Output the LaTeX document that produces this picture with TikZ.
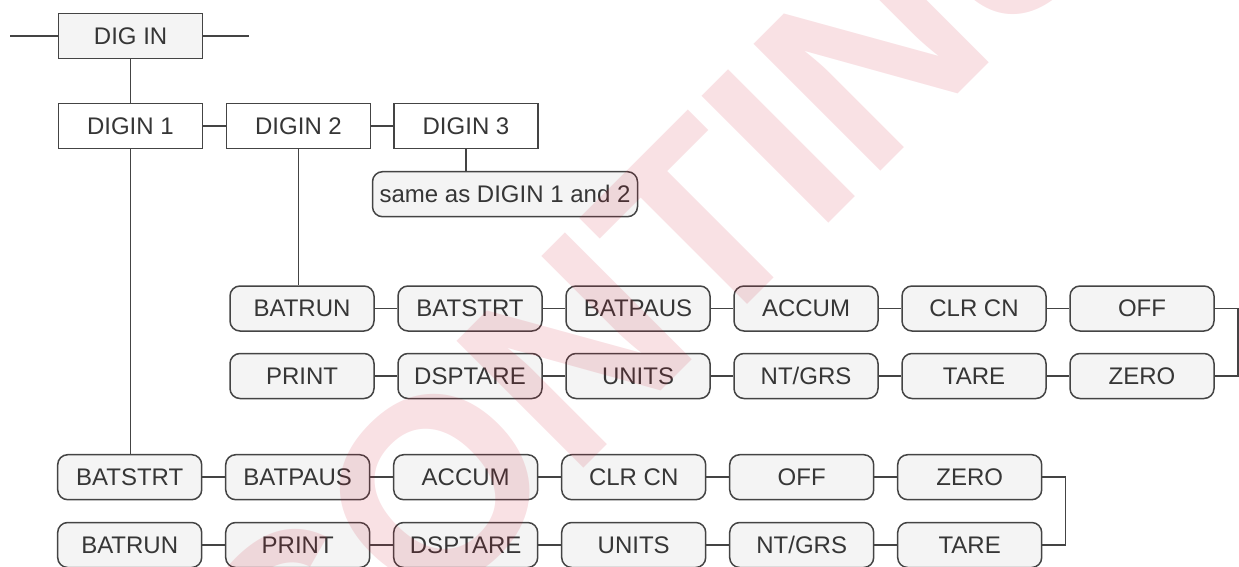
\documentclass[tikz,border=0pt]{standalone}
\usepackage{fontspec}
\setmainfont{Liberation Sans}
\definecolor{ln}{HTML}{444444}
\definecolor{tx}{HTML}{363636}
\definecolor{bx}{HTML}{F4F4F4}
\definecolor{wm}{RGB}{205,20,45}
\begin{document}
\begin{tikzpicture}[x=1pt,y=-1pt,
  base/.style={draw=ln, line width=1.5pt, text=tx, font=\fontsize{24}{28}\selectfont, inner sep=0pt, minimum width=144pt, minimum height=45pt, anchor=center},
  sq/.style={base, fill=white},
  sqg/.style={base, fill=bx},
  rbox/.style={base, fill=bx, rounded corners=10pt},
  conn/.style={draw=ln, line width=1.5pt}]
\useasboundingbox (0,0) rectangle (1239,567);
% top level
\node[sqg] (digin) at (130.6,35.8) {DIG IN};
\coordinate (l0) at (10,35.8);
\coordinate (r0) at (249,35.8);
\draw[conn] (l0) -- (digin);
\draw[conn] (digin) -- (r0);
\node[sq] (d1) at (130.4,125.8) {DIGIN 1};
\node[sq] (d2) at (298.5,125.8) {DIGIN 2};
\node[sq] (d3) at (466,125.8) {DIGIN 3};
\node[rbox, minimum width=265pt] (same) at (505,194.2) {same as DIGIN 1 and 2};
\draw[conn] (digin.south) -- (d1.north -| digin.south);
\draw[conn] (d1) -- (d2);
\draw[conn] (d2) -- (d3);
\draw[conn] (d3.south) -- (d3.south |- same.north);
% DIGIN 2 section
\foreach \t [count=\i] in {BATRUN,BATSTRT,BATPAUS,ACCUM,CLR CN,OFF}
  \node[rbox] (a\i) at ({302+168*(\i-1)},308.5) {\t};
\foreach \t [count=\i] in {PRINT,DSPTARE,UNITS,NT/GRS,TARE,ZERO}
  \node[rbox] (b\i) at ({302+168*(\i-1)},376) {\t};
\foreach \i [evaluate=\i as \j using int(\i+1)] in {1,...,5} {
  \draw[conn] (a\i) -- (a\j);
  \draw[conn] (b\i) -- (b\j);
}
\coordinate (bxA) at (1238,0);
\draw[conn] (a6.east) -- (a6.east -| bxA) |- (b6.east);
\draw[conn] (d2.south) -- (d2.south |- a1.north);
% DIGIN 1 section
\foreach \t [count=\i] in {BATSTRT,BATPAUS,ACCUM,CLR CN,OFF,ZERO}
  \node[rbox] (c\i) at ({129.7+168*(\i-1)},477.2) {\t};
\foreach \t [count=\i] in {BATRUN,PRINT,DSPTARE,UNITS,NT/GRS,TARE}
  \node[rbox] (e\i) at ({129.7+168*(\i-1)},545) {\t};
\foreach \i [evaluate=\i as \j using int(\i+1)] in {1,...,5} {
  \draw[conn] (c\i) -- (c\j);
  \draw[conn] (e\i) -- (e\j);
}
\coordinate (bxC) at (1065.7,0);
\draw[conn] (c6.east) -- (c6.east -| bxC) |- (e6.east);
\draw[conn] (d1.south) -- (d1.south |- c1.north);
% watermark
\begin{scope}
\clip (0,0) rectangle (1239,567);
\node[anchor=base west, inner sep=0pt, rotate=45, text=wm, text opacity=0.13, font=\fontsize{260.8}{300}\selectfont\bfseries] (wmk) at (-13,1065) {DISCONTINUED};
\end{scope}
\end{tikzpicture}
\end{document}
